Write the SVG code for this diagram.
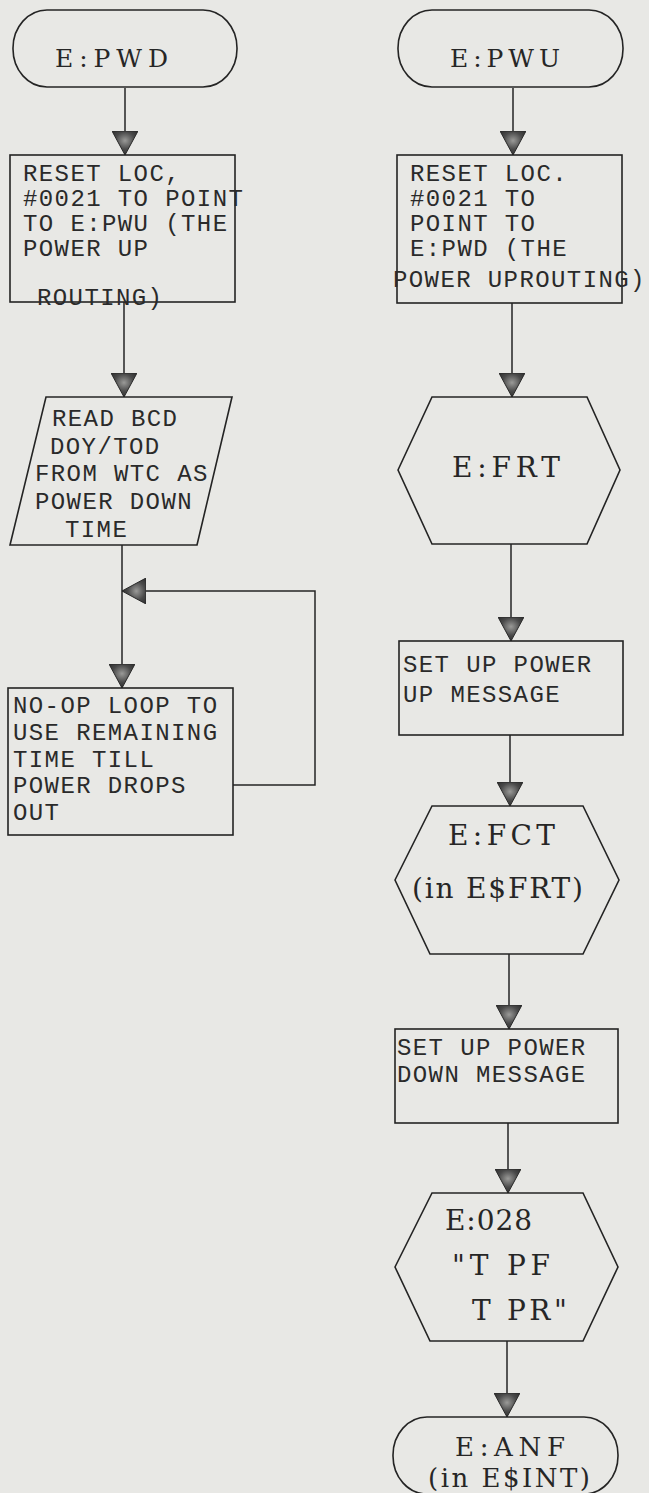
<svg xmlns="http://www.w3.org/2000/svg" width="649" height="1493" viewBox="0 0 649 1493">
  <style>
    .shape { fill: none; stroke: #242424; stroke-width: 1.6; }
    .conn { fill: none; stroke: #242424; stroke-width: 1.5; }
    .mono { font-family: "Liberation Mono", "DejaVu Sans Mono", monospace; font-size: 24px; letter-spacing: 1.4px; fill: #2a2a2a; }
    .serif { font-family: "DejaVu Serif", "Liberation Serif", serif; fill: #262626; }
    .t25 { font-size: 25px; }
    .t26 { font-size: 26px; }
    .t28 { font-size: 28px; }
  </style>
  <defs>
    <radialGradient id="ag" cx="0.4" cy="0.5" r="0.6">
      <stop offset="0" stop-color="#9a9a98"/>
      <stop offset="0.6" stop-color="#4a4a4a"/>
      <stop offset="1" stop-color="#303030"/>
    </radialGradient>
    <marker id="arr" viewBox="0 0 24 26" refX="24" refY="13" markerWidth="24" markerHeight="26" markerUnits="userSpaceOnUse" orient="auto">
      <path d="M0,0 L24,13 L0,26 Z" fill="url(#ag)" stroke="#2a2a2a" stroke-width="1"/>
    </marker>
  </defs>
  <rect x="0" y="0" width="649" height="1493" fill="#e8e8e5"/>

  <g id="connectors">
    <path class="conn" d="M125,88 V155" marker-end="url(#arr)"/>
    <path class="conn" d="M124,302 V397" marker-end="url(#arr)"/>
    <path class="conn" d="M122,545 V688" marker-end="url(#arr)"/>
    <path class="conn" d="M233,785 H315 V591 H122" marker-end="url(#arr)"/>
    <path class="conn" d="M513,88 V155" marker-end="url(#arr)"/>
    <path class="conn" d="M512,303 V397" marker-end="url(#arr)"/>
    <path class="conn" d="M511,544 V641" marker-end="url(#arr)"/>
    <path class="conn" d="M510,735 V806" marker-end="url(#arr)"/>
    <path class="conn" d="M509,954 V1029" marker-end="url(#arr)"/>
    <path class="conn" d="M508,1123 V1193" marker-end="url(#arr)"/>
    <path class="conn" d="M507,1341 V1417" marker-end="url(#arr)"/>
  </g>

  <g id="n-pwd">
    <rect class="shape" x="13" y="10" width="224" height="77" rx="34" ry="38"/>
    <text class="serif t25" x="55" y="67" textLength="113" lengthAdjust="spacing">E:PWD</text>
  </g>

  <g id="n-reset-left">
    <rect class="shape" x="10" y="155" width="225" height="147"/>
    <text class="mono" x="23" y="181">RESET LOC,</text>
    <text class="mono" x="23" y="206">#0021 TO POINT</text>
    <text class="mono" x="23" y="231">TO E:PWU (THE</text>
    <text class="mono" x="23" y="256">POWER UP</text>
    <text class="mono" x="37" y="305">ROUTING)</text>
  </g>

  <g id="n-read">
    <polygon class="shape" points="46,397 232,397 197,545 10,545"/>
    <text class="mono" x="52" y="426">READ BCD</text>
    <text class="mono" x="50" y="454">DOY/TOD</text>
    <text class="mono" x="35" y="481">FROM WTC AS</text>
    <text class="mono" x="35" y="509">POWER DOWN</text>
    <text class="mono" x="65" y="537">TIME</text>
  </g>

  <g id="n-noop">
    <rect class="shape" x="8" y="688" width="225" height="147"/>
    <text class="mono" x="13" y="713">NO-OP LOOP TO</text>
    <text class="mono" x="13" y="740">USE REMAINING</text>
    <text class="mono" x="13" y="767">TIME TILL</text>
    <text class="mono" x="13" y="793">POWER DROPS</text>
    <text class="mono" x="13" y="820">OUT</text>
  </g>

  <g id="n-pwu">
    <rect class="shape" x="398" y="10" width="225" height="77" rx="34" ry="38"/>
    <text class="serif t25" x="450" y="67" textLength="110" lengthAdjust="spacing">E:PWU</text>
  </g>

  <g id="n-reset-right">
    <rect class="shape" x="397" y="155" width="225" height="148"/>
    <text class="mono" x="410" y="181">RESET LOC.</text>
    <text class="mono" x="410" y="206">#0021 TO</text>
    <text class="mono" x="410" y="231">POINT TO</text>
    <text class="mono" x="410" y="256">E:PWD (THE</text>
    <text class="mono" x="393" y="287">POWER UPROUTING)</text>
  </g>

  <g id="n-frt">
    <polygon class="shape" points="398,470 432,397 587,397 620,470 587,544 432,544"/>
    <text class="serif t28" x="452" y="477" textLength="108" lengthAdjust="spacing">E:FRT</text>
  </g>

  <g id="n-setup-up">
    <rect class="shape" x="399" y="641" width="224" height="94"/>
    <text class="mono" x="403" y="672">SET UP POWER</text>
    <text class="mono" x="403" y="702">UP MESSAGE</text>
  </g>

  <g id="n-fct">
    <polygon class="shape" points="395,880 432,806 583,806 619,880 583,954 430,954"/>
    <text class="serif t28" x="448" y="845" textLength="107" lengthAdjust="spacing">E:FCT</text>
    <text class="serif t28" x="412" y="898" textLength="171" lengthAdjust="spacing">(in E$FRT)</text>
  </g>

  <g id="n-setup-down">
    <rect class="shape" x="395" y="1029" width="223" height="94"/>
    <text class="mono" x="397" y="1055">SET UP POWER</text>
    <text class="mono" x="397" y="1082">DOWN MESSAGE</text>
  </g>

  <g id="n-028">
    <polygon class="shape" points="395,1267 432,1193 583,1193 618,1267 583,1341 430,1341"/>
    <text class="serif t28" x="445" y="1230" textLength="87" lengthAdjust="spacing">E:028</text>
    <text class="serif t28" x="452" y="1275" textLength="98" lengthAdjust="spacing">"T PF</text>
    <text class="serif t28" x="472" y="1320" textLength="95" lengthAdjust="spacing">T PR"</text>
  </g>

  <g id="n-anf">
    <rect class="shape" x="393" y="1417" width="225" height="77" rx="34" ry="38"/>
    <text class="serif t26" x="455" y="1456" textLength="110" lengthAdjust="spacing">E:ANF</text>
    <text class="serif t26" x="428" y="1487" textLength="162" lengthAdjust="spacing">(in E$INT)</text>
  </g>
</svg>
